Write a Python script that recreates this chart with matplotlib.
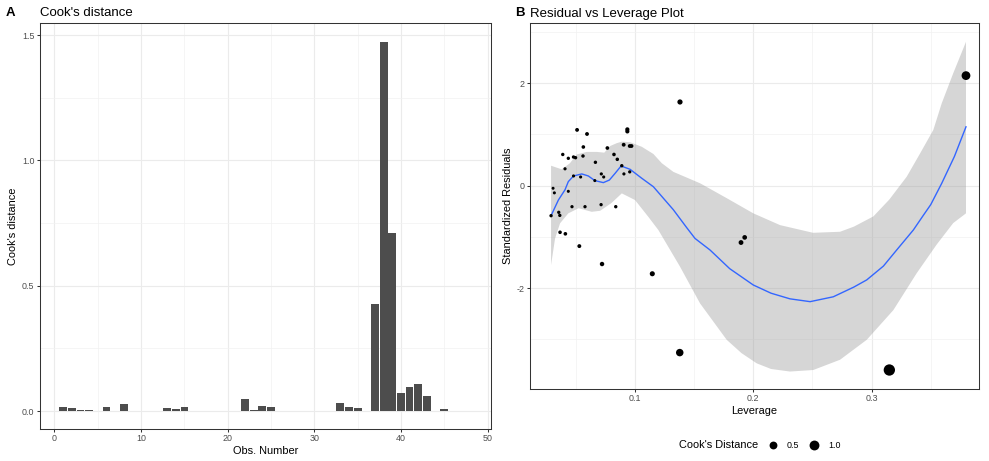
import numpy as np
import matplotlib
matplotlib.use("Agg")
import matplotlib.pyplot as plt
from matplotlib.lines import Line2D
from matplotlib.ticker import MultipleLocator

plt.rcParams['font.family'] = ['Liberation Sans', 'DejaVu Sans']
plt.rcParams['axes.unicode_minus'] = False

# ---- panel A: Cook's distance per observation
obs = list(range(1, 46))
cooks_d = [0.017, 0.011, 0.004, 0.004, 0.0, 0.015, 0.0, 0.028, 0.002, 0.002,
           0.002, 0.002, 0.011, 0.007, 0.016, 0.002, 0.002, 0.0, 0.002, 0.0,
           0.0, 0.046, 0.006, 0.020, 0.016, 0.002, 0.0, 0.002, 0.002, 0.002,
           0.0, 0.0, 0.032, 0.016, 0.013, 0.0, 0.425, 1.474, 0.712, 0.073,
           0.094, 0.106, 0.061, 0.0, 0.009]

# ---- panel B: residual vs leverage points
leverage = [0.0510, 0.0594, 0.0935, 0.0935, 0.0563, 0.0766, 0.0904, 0.0955, 0.0970,
            0.0389, 0.0436, 0.0480, 0.0497, 0.0560, 0.0822, 0.0850, 0.0665, 0.0408,
            0.0888, 0.0480, 0.0540, 0.0715, 0.0735, 0.0660, 0.0906, 0.0955, 0.0307,
            0.0318, 0.0436, 0.0290, 0.0355, 0.0364, 0.0467, 0.0577, 0.0713, 0.0837,
            0.0366, 0.0411, 0.0529, 0.0721, 0.1146, 0.1378, 0.3150, 0.1896, 0.1927,
            0.1380, 0.3798]
std_resid = [1.09, 1.01, 1.10, 1.06, 0.756, 0.736, 0.80, 0.775, 0.775,
             0.61, 0.535, 0.56, 0.547, 0.58, 0.61, 0.515, 0.457, 0.33,
             0.39, 0.19, 0.17, 0.23, 0.17, 0.10, 0.23, 0.27, -0.05,
             -0.14, -0.11, -0.586, -0.52, -0.58, -0.41, -0.41, -0.37, -0.41,
             -0.91, -0.94, -1.18, -1.53, -1.72, -3.26, -3.60, -1.11, -1.01,
             1.635, 2.15]
cooks_pt = [0.016, 0.016, 0.031, 0.029, 0.009, 0.011, 0.016, 0.016, 0.016,
            0.004, 0.003, 0.004, 0.004, 0.005, 0.008, 0.006, 0.004, 0.001,
            0.004, 0.0005, 0.0004, 0.001, 0.0006, 0.0002, 0.001, 0.002, 0.00002,
            0.0002, 0.0001, 0.003, 0.0025, 0.003, 0.002, 0.0025, 0.0026, 0.0038,
            0.008, 0.0095, 0.019, 0.045, 0.094, 0.43, 1.47, 0.072, 0.061,
            0.107, 0.71]

# loess fit and its confidence band
fit_x = [0.029, 0.0352, 0.0408, 0.0436, 0.048, 0.055, 0.0605, 0.066, 0.0732, 0.0783,
         0.0831, 0.0882, 0.0958, 0.1057, 0.1155, 0.1324, 0.1437, 0.1507, 0.1634, 0.18,
         0.2, 0.215, 0.231, 0.248, 0.2676, 0.285, 0.2959, 0.31, 0.3212, 0.3353,
         0.3437, 0.35, 0.3593, 0.37, 0.3798]
fit_y = [-0.586, -0.28, -0.08, 0.08, 0.19, 0.23, 0.19, 0.10, 0.06, 0.11,
         0.24, 0.385, 0.32, 0.145, -0.02, -0.47, -0.82, -1.03, -1.256, -1.62,
         -1.94, -2.10, -2.21, -2.265, -2.17, -1.98, -1.84, -1.57, -1.256, -0.865,
         -0.58, -0.37, 0.047, 0.57, 1.15]
upper_x = [0.029, 0.038, 0.045, 0.0507, 0.0592, 0.0677, 0.074, 0.079, 0.0845, 0.0888,
           0.0958, 0.1057, 0.1155, 0.1226, 0.1324, 0.155, 0.178, 0.2, 0.2226, 0.2505,
           0.2733, 0.285, 0.3015, 0.315, 0.3297, 0.341, 0.3522, 0.3593, 0.369, 0.3798]
upper_y = [0.39, 0.32, 0.44, 0.61, 0.66, 0.66, 0.645, 0.775, 0.83, 0.86,
           0.85, 0.76, 0.62, 0.44, 0.27, 0.047, -0.25, -0.54, -0.77, -0.92,
           -0.90, -0.80, -0.60, -0.27, 0.176, 0.63, 1.09, 1.61, 2.195, 2.81]
lower_x = [0.029, 0.0324, 0.0366, 0.0436, 0.0523, 0.0634, 0.0705, 0.080, 0.0888, 0.1,
           0.1113, 0.1197, 0.138, 0.155, 0.1775, 0.19, 0.2029, 0.215, 0.231, 0.2507,
           0.2733, 0.2959, 0.3184, 0.3381, 0.355, 0.369, 0.3798]
lower_y = [-1.55, -1.03, -0.735, -0.54, -0.44, -0.51, -0.49, -0.34, -0.15, -0.28,
           -0.61, -0.865, -1.58, -2.30, -3.01, -3.27, -3.47, -3.58, -3.63, -3.60,
           -3.40, -3.01, -2.43, -1.71, -1.15, -0.73, -0.54]

legend_vals = [0.5, 1.0]

W, H = 989, 461
fig = plt.figure(figsize=(W / 100, H / 100), dpi=100)


def px_box(x0, y0, x1, y1):
    # pixel box (top-left origin) -> figure fraction rect
    return [x0 / W, 1 - y1 / H, (x1 - x0) / W, (y1 - y0) / H]


def style(ax):
    ax.set_axisbelow(True)
    ax.grid(which='major', color='#EBEBEB', linewidth=0.8)
    ax.grid(which='minor', color='#F2F2F2', linewidth=0.5)
    for s in ax.spines.values():
        s.set_color('#333333')
        s.set_linewidth(0.75)
    ax.tick_params(which='major', direction='out', length=2.2, width=0.75,
                   color='#333333', labelcolor='#4D4D4D', labelsize=6.4, pad=1.5)
    ax.tick_params(which='minor', length=0)


# ---- panel A
ax1 = fig.add_axes(px_box(39.5, 23.3, 491, 429.3))
ax1.bar(obs, cooks_d, width=0.9, color='#4D4D4D', linewidth=0)
ax1.set_xlim(-1.73, 50.4)
ax1.set_ylim(-0.073, 1.547)
ax1.xaxis.set_major_locator(MultipleLocator(10))
ax1.xaxis.set_minor_locator(MultipleLocator(5))
ax1.yaxis.set_major_locator(MultipleLocator(0.5))
ax1.yaxis.set_minor_locator(MultipleLocator(0.25))
ax1.yaxis.set_major_formatter(matplotlib.ticker.FormatStrFormatter('%.1f'))
style(ax1)
ax1.set_xlabel('Obs. Number', fontsize=7.9, labelpad=2)
ax1.set_ylabel("Cook's distance", fontsize=7.9, labelpad=3)


# ---- panel B
def cook_size(c):
    # ggplot-like area scale: 1..6 "mm", then to pixel diameter -> points^2
    size = 1 + 5 * np.sqrt(np.asarray(c) / max(cooks_pt))
    diam_px = 1.3 + 1.67 * size
    return (diam_px * 0.72) ** 2


ax2 = fig.add_axes(px_box(530, 23.5, 979, 389))
band_x = np.r_[upper_x, lower_x[::-1]]
band_y = np.r_[upper_y, lower_y[::-1]]
ax2.fill(band_x, band_y, color='#999999', alpha=0.4, linewidth=0, zorder=2)
ax2.plot(fit_x, fit_y, color='#3366FF', linewidth=1.0, zorder=3)
ax2.scatter(leverage, std_resid, s=cook_size(cooks_pt), color='black',
            linewidths=0, zorder=4)
ax2.set_xlim(0.0112, 0.3908)
ax2.set_ylim(-3.971, 3.168)
ax2.xaxis.set_major_locator(MultipleLocator(0.1))
ax2.xaxis.set_minor_locator(MultipleLocator(0.05))
ax2.yaxis.set_major_locator(MultipleLocator(2))
ax2.yaxis.set_minor_locator(MultipleLocator(1))
ax2.xaxis.set_major_formatter(matplotlib.ticker.FormatStrFormatter('%.1f'))
style(ax2)
ax2.set_xlabel('Leverage', fontsize=7.9, labelpad=2)
ax2.set_ylabel('Standardized Residuals', fontsize=7.9, labelpad=3)

# ---- titles and tags (titles start at each panel's left edge)
fig.text(6 / W, 1 - 16.5 / H, 'A', fontsize=9.5, fontweight='bold', va='baseline')
fig.text(39.5 / W, 1 - 16.5 / H, "Cook's distance", fontsize=9.5, va='baseline')
fig.text(515 / W, 1 - 16.5 / H, 'B', fontsize=9.5, fontweight='bold', va='baseline')
fig.text(530 / W, 1 - 16.5 / H, 'Residual vs Leverage Plot', fontsize=9.5, va='baseline')

# ---- size legend under panel B
ly = 1 - 445 / H
fig.text(758 / W, ly, "Cook's Distance", fontsize=7.9, ha='right', va='center')
for xpos, val in zip([772.7, 814], legend_vals):
    fig.add_artist(Line2D([xpos / W], [ly], marker='o', linestyle='none',
                          markersize=np.sqrt(cook_size(val)), color='black',
                          markeredgewidth=0, transform=fig.transFigure))
    fig.text((xpos + 14) / W, ly, '%.1f' % val, fontsize=6.4, va='center')

fig.savefig('out.png', dpi=100)
